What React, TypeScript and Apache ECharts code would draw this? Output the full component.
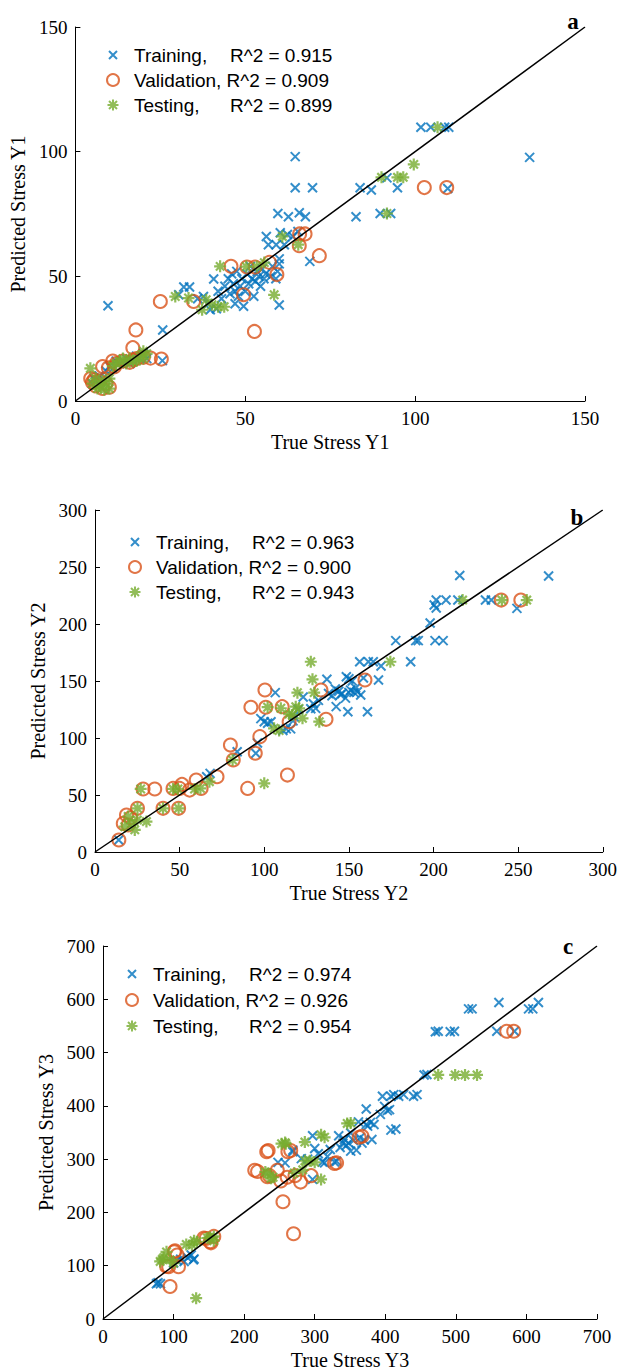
import React, { useEffect, useRef } from 'react';
import * as echarts from 'echarts';

const BLUE = '#0072BD';
const ORANGE = '#D95319';
const GREEN = '#77AC30';
const CLEAR = 'rgba(0,0,0,0)';

// ---------- Panel a (Y1) ----------
const trainA: number[][] = [
  [9.6, 38.2], [25.7, 28.5], [25.6, 16.2],
  [31.9, 45.7], [33.6, 45.7], [30.4, 42.6], [36, 41], [37.7, 41.9], [39.7, 36.6], [39, 39], [40.7, 48.9], [41.5, 37],
  [42, 44], [43, 41], [44, 46], [45, 49], [45.5, 43], [46, 51], [46.5, 47], [47, 39], [47, 44], [47.5, 52], [48, 42],
  [48.5, 46], [49, 49], [49.5, 38], [50, 44], [50.5, 51], [51, 47], [51.5, 54], [52, 49], [52.5, 42], [53, 48],
  [53.5, 52], [54, 50], [54.5, 46], [55, 53], [55.5, 49], [56, 51], [56.8, 62.7], [57.5, 50], [58, 54], [59.1, 62.7],
  [59, 49], [59.5, 52], [60, 55], [60, 57], [60, 38.5], [61.5, 62.7], [56.2, 66], [60.3, 67.5], [62.4, 66.8], [64, 66],
  [65.5, 68], [59.6, 75.2], [62.7, 73.9], [65.9, 75.5], [67.7, 73.9], [64.7, 98], [64.7, 85.5], [69.8, 85.5], [69, 56],
  [82.6, 73.9], [83.8, 85.5], [87.1, 84.6], [89.7, 75.2], [91.7, 89.5], [92.8, 75.2], [94.8, 85.5],
  [101.7, 109.8], [104.6, 109.8], [108.7, 109.8], [109.9, 109.8], [133.7, 97.7], [109.6, 85.2],
  [5, 7], [5.5, 9], [6, 8], [7, 10], [8, 9], [9, 12], [10, 14], [11, 13], [12, 16], [13, 15], [14, 16], [15, 17],
  [16, 15], [17, 16], [18, 18], [19, 17], [20, 19], [21, 17],
];
const validA: number[][] = [
  [4.5, 9], [5, 7.5], [5.5, 8.5], [6, 6], [7, 8], [8, 5], [9, 7], [10, 5.5], [8, 13.8], [9.7, 13.3], [11.5, 13.7],
  [11, 16], [12, 15], [14, 16], [16, 15.5], [17, 16.5], [18, 17], [17.8, 28.5], [16.9, 21.4], [20, 17.5], [22.1, 17.2],
  [25.3, 16.8], [25, 39.9], [34.8, 39.9], [45.8, 54], [49.5, 42.6], [50.5, 53.7], [52.9, 53.7], [52.7, 27.9],
  [57.1, 55.6], [59.3, 50.7], [65.9, 62.3], [66, 67], [67.6, 67], [71.8, 58.3], [102.7, 85.6], [109.3, 85.6],
];
const testA: number[][] = [
  [4.4, 13.1], [5, 7], [6, 9], [6.5, 5], [7, 6], [8, 8], [8.5, 4.5], [9, 7], [10, 9], [10, 5], [11, 14], [12, 15],
  [13, 16], [14, 17], [15, 15], [16, 17], [17, 16], [18, 16], [19, 18], [20, 20], [20, 17], [21, 19],
  [29.4, 41.9], [33.3, 41.3], [37.3, 36.6], [38.5, 40.6], [40.2, 38.6], [42, 37.8], [43.8, 37.8], [42.6, 54],
  [50.3, 53.9], [53.4, 53.9], [55.6, 55.5], [58.5, 42.6], [60.9, 66], [65.6, 62.7],
  [90.1, 89.7], [94.8, 89.7], [96.5, 89.7], [91.7, 75.2], [99.6, 94.9], [106.6, 109.8],
];

// ---------- Panel b (Y2) ----------
const trainB: number[][] = [
  [14, 10.5], [66, 66], [68, 69], [84, 88], [95, 86.6], [96, 95.6], [98, 117], [100, 114.3], [102, 112.9], [104, 114.3],
  [106.5, 139.8], [111, 106.6], [113, 108], [115.6, 108], [117.6, 118.7], [120, 125], [117, 115], [123, 136],
  [127.5, 125.6], [129, 130], [130.4, 126], [132, 133], [137, 151.5], [138, 139], [140, 137], [142, 143], [142.5, 127.5],
  [144, 141], [145, 138], [146, 139], [148, 135], [149.4, 123], [150, 140], [151, 142], [153, 140], [148.5, 153.8],
  [150, 152], [152, 150], [154, 143.9], [155, 140.6], [157, 137.7], [161, 123], [158.6, 152.6], [156.4, 166.9],
  [161.5, 166.9], [164.4, 166.9], [167.5, 150.9], [169, 163.2], [177.7, 185.4], [186.5, 166.9], [189.5, 185.4],
  [191, 185.4], [198, 200.9], [200.9, 185.4], [205.7, 185.4], [200.4, 216.7], [201.6, 214], [201.6, 221], [207.4, 221],
  [214.4, 221], [215.5, 242.5], [230.7, 221], [234.2, 221], [249.3, 213.7], [268, 242.1],
];
const validB: number[][] = [
  [14.1, 10.5], [16.7, 25.1], [18.6, 32.4], [19.6, 23.7], [21, 30], [25.1, 38.3], [28.4, 55.3], [35.3, 55.3],
  [40.2, 38.3], [46.1, 55.8], [49.4, 38.3], [50, 55.8], [51.4, 59.3], [55.9, 54.3], [59.8, 63.1], [62.7, 55.8],
  [72.1, 66], [80, 93.8], [81.7, 80.7], [90.2, 55.8], [92.1, 127], [94.7, 86.6], [97.4, 101.2], [100.4, 142.1],
  [100.9, 127], [110.6, 127.5], [113.7, 67.5], [114.7, 114.3], [133.5, 142.1], [136.5, 116.4], [159.5, 150.9],
  [240, 221], [251.6, 221],
];
const testB: number[][] = [
  [17.6, 22.2], [19.6, 31.1], [21.6, 25.2], [23.5, 19.4], [25, 28], [27, 55.3], [30.4, 26.7], [25.1, 38.3],
  [40.2, 38.3], [46.1, 55.3], [49, 55.3], [49.4, 38.3], [58.8, 55.3], [62.3, 55.8], [67.6, 61.7], [81.3, 80.7],
  [100, 60.2], [102, 127], [105.8, 108.5], [108.8, 106.6], [109.8, 126.1], [114.7, 121], [116.6, 120.2],
  [118.6, 127.5], [119.6, 139.8], [120.6, 126], [122.6, 117.3], [127.5, 166.9], [128.5, 151.5], [129.5, 139.8],
  [132.5, 114.3], [174.5, 166.9], [217.2, 221], [240.4, 221], [255.1, 221],
];

// ---------- Panel c (Y3) ----------
const trainC: number[][] = [
  [75.7, 66], [81.4, 66], [78, 68], [100, 105], [105, 110], [110, 112], [115, 108], [120, 115], [128, 111], [129, 112.5],
  [125, 120], [248, 294], [258, 293], [269, 314], [269, 317], [281, 301], [290, 300], [297, 262], [297, 344], [300, 320],
  [305, 310], [311, 294.5], [314, 293], [318, 305], [322, 318], [328, 294.5], [331, 296], [334, 344], [336, 322],
  [340, 330], [342, 337], [345, 326], [348, 330], [351, 315], [351, 349], [355, 335], [359, 317], [362, 370], [364, 340],
  [367, 330], [370, 336], [373, 365], [373, 394], [375, 362], [379, 369], [381, 337], [384, 365], [393, 384], [399, 399],
  [403, 391], [406, 393], [408, 354.5], [415, 356.5], [396, 418], [408, 418], [412, 421], [419, 418], [426, 421],
  [440, 418], [445, 421], [455, 458], [459, 459], [471, 539], [475, 540], [492, 539], [498, 540], [518, 582],
  [523, 582], [558, 540], [561, 594], [583, 540], [603, 582], [609, 582], [617, 594],
];
const validC: number[][] = [
  [90, 99], [93, 98], [95, 61], [101, 126], [102, 128], [107, 98], [105, 120], [143, 152], [146, 151], [152, 145],
  [153, 143], [157, 155], [215, 279], [219, 277], [232, 314], [234, 316], [233, 267], [236, 269], [247, 279],
  [252, 259], [255, 220], [261, 266], [262, 314], [266, 316], [270, 160], [272, 269], [280, 257], [295, 269],
  [328, 292], [331, 293], [363, 341], [367, 343], [572, 540], [582, 540],
];
const testC: number[][] = [
  [81, 108], [84, 112], [86, 115], [90, 126], [95, 111], [100, 105], [118, 140], [126, 139], [129, 147], [132, 39],
  [133, 145], [148, 152], [151, 153], [157, 147], [157, 155], [230, 276], [233, 273], [238, 264], [241, 266],
  [253, 329], [258, 331], [259, 329], [271, 274], [283, 280], [286, 297], [286, 332], [293, 297], [300, 294],
  [309, 262], [309, 346], [314, 341], [346, 367], [351, 368], [475, 458], [499, 458], [513, 458], [530, 458],
];

const seriesNames = ['Training', 'Validation', 'Testing'];
const r2A = ['0.915', '0.909', '0.899'];
const r2B = ['0.963', '0.900', '0.943'];
const r2C = ['0.974', '0.926', '0.954'];
const panelLabels = ['a', 'b', 'c'];
const xNames = ['True Stress Y1', 'True Stress Y2', 'True Stress Y3'];
const yNames = ['Predicted Stress Y1', 'Predicted Stress Y2', 'Predicted Stress Y3'];
const axisMax = [150, 300, 700];
const axisInterval = [50, 50, 100];

const X_PATH = 'path://M0,0L10,10M10,0L0,10';
const STAR_PATH = 'path://M5,0L5,10M0,5L10,5M1.5,1.5L8.5,8.5M8.5,1.5L1.5,8.5';
const LEG_X = 'path://M0,0L0,0M12,12L12,12M2,2L10,10M10,2L2,10';
const LEG_STAR = 'path://M0,0L0,0M12,12L12,12M6,0.5L6,11.5M0.5,6L11.5,6M2,2L10,10M10,2L2,10';

const SERIF = 'Liberation Serif';
const SANS = 'Liberation Sans';

const layouts = [
  { grid: { left: 75, top: 27, width: 510, height: 374 }, legend: { left: 106, top: 45, gap: 5 }, label: [573, 21] },
  { grid: { left: 95, top: 510, width: 509, height: 342 }, legend: { left: 128, top: 532, gap: 5 }, label: [577, 517] },
  { grid: { left: 103, top: 946, width: 494, height: 374 }, legend: { left: 125, top: 964, gap: 6 }, label: [568, 946] },
];

export default function App() {
  const ref = useRef<HTMLDivElement>(null);
  useEffect(() => {
    if (!ref.current) return;
    const chart = echarts.init(ref.current, undefined, { renderer: 'svg' });
    const data = [
      [trainA, validA, testA],
      [trainB, validB, testB],
      [trainC, validC, testC],
    ];
    const r2s = [r2A, r2B, r2C];

    const grids: any[] = [];
    const xAxes: any[] = [];
    const yAxes: any[] = [];
    const series: any[] = [];
    const legends: any[] = [];
    const graphics: any[] = [];

    layouts.forEach((L, i) => {
      grids.push({ ...L.grid, containLabel: false });
      const common = {
        gridIndex: i,
        type: 'value',
        min: 0,
        max: axisMax[i],
        interval: axisInterval[i],
        nameLocation: 'middle',
        nameTextStyle: { fontFamily: SERIF, fontSize: 20, color: '#000' },
        axisLine: { show: true, onZero: false, lineStyle: { color: '#000', width: 1 } },
        axisTick: { show: true, inside: true, length: 5, lineStyle: { color: '#000', width: 1 } },
        axisLabel: { fontFamily: SERIF, fontSize: 19, color: '#000', margin: 8 },
        splitLine: { show: false },
      };
      xAxes.push({ ...common, name: xNames[i], nameGap: 31 });
      yAxes.push({ ...common, name: yNames[i], nameGap: 43 });

      const [tr, va, te] = data[i];
      series.push({
        type: 'scatter', name: 'Training', xAxisIndex: i, yAxisIndex: i, data: tr,
        symbol: X_PATH, symbolSize: 9, silent: true,
        itemStyle: { color: CLEAR, borderColor: BLUE, borderWidth: 2 },
      });
      series.push({
        type: 'scatter', name: 'Validation', xAxisIndex: i, yAxisIndex: i, data: va,
        symbol: 'circle', symbolSize: 13, silent: true,
        itemStyle: { color: CLEAR, borderColor: ORANGE, borderWidth: 2 },
      });
      series.push({
        type: 'scatter', name: 'Testing', xAxisIndex: i, yAxisIndex: i, data: te,
        symbol: STAR_PATH, symbolSize: 12, silent: true,
        itemStyle: { color: CLEAR, borderColor: GREEN, borderWidth: 2.2 },
      });
      series.push({
        type: 'line', name: 'fit', xAxisIndex: i, yAxisIndex: i,
        data: [[0, 0], [axisMax[i], axisMax[i]]],
        symbol: 'none', silent: true,
        lineStyle: { color: '#000', width: 1.5 },
      });

      const r2 = r2s[i];
      const richBase = { fontFamily: SANS, fontSize: 19, color: '#000', lineHeight: 20 };
      legends.push({
        left: L.legend.left,
        top: L.legend.top,
        orient: 'vertical',
        padding: 0,
        itemWidth: 32,
        itemHeight: 12,
        itemGap: L.legend.gap,
        selectedMode: false,
        data: [
          { name: 'Training', icon: LEG_X, itemStyle: { color: CLEAR, borderColor: BLUE, borderWidth: 2 } },
          { name: 'Validation', icon: 'circle', itemStyle: { color: CLEAR, borderColor: ORANGE, borderWidth: 2 } },
          { name: 'Testing', icon: LEG_STAR, itemStyle: { color: CLEAR, borderColor: GREEN, borderWidth: 2 } },
        ],
        formatter: (name: string) => {
          const k = seriesNames.indexOf(name);
          if (name === 'Validation') return `{r|Validation, R^2 = ${r2[k]}}`;
          return `{t|${name},}{r|R^2 = ${r2[k]}}`;
        },
        textStyle: {
          ...richBase,
          rich: { t: { ...richBase, width: 96 }, r: { ...richBase } },
        },
      });

      graphics.push({
        type: 'text',
        x: L.label[0],
        y: L.label[1],
        silent: true,
        style: {
          text: panelLabels[i],
          font: `bold 23px ${SERIF}`,
          fill: '#000',
          textAlign: 'center',
          textVerticalAlign: 'middle',
        },
      });
    });

    chart.setOption({
      animation: false,
      backgroundColor: '#fff',
      grid: grids,
      xAxis: xAxes,
      yAxis: yAxes,
      legend: legends,
      series,
      graphic: graphics,
    });
    return () => chart.dispose();
  }, []);

  return (
    <div
      ref={ref}
      style={{ position: 'absolute', left: 0, top: 0, width: 620, height: 1371, background: '#fff' }}
    />
  );
}
